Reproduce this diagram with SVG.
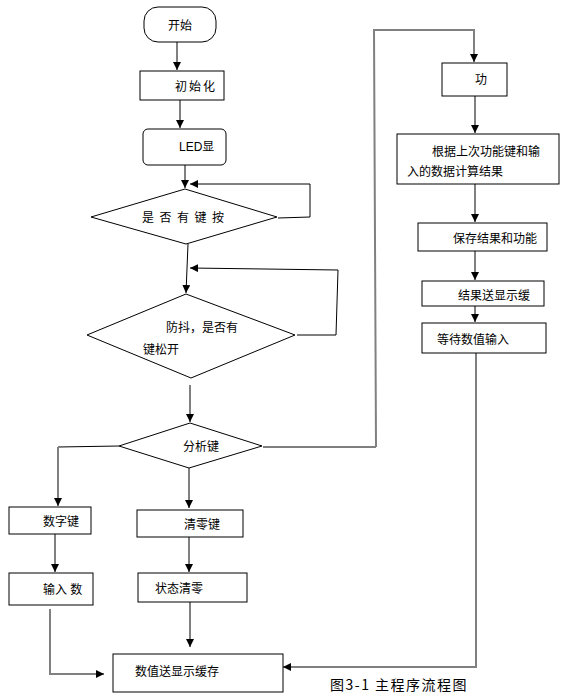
<svg xmlns="http://www.w3.org/2000/svg" width="562" height="696" viewBox="0 0 562 696">
<defs>
<marker id="ah" viewBox="0 0 10 10" refX="10" refY="5" markerWidth="8" markerHeight="8" markerUnits="userSpaceOnUse" orient="auto">
<path d="M0,0 L10,5 L0,10 Z" fill="#000"/>
</marker>
</defs>
<style>
.box{fill:#fff;stroke:#000;stroke-width:1}
.t{font-family:"Liberation Sans","Noto Sans CJK SC",sans-serif;font-size:12px;fill:#000;dominant-baseline:central}
.g{fill:none;stroke:#808080;stroke-width:2}
.k{fill:none;stroke:#000;stroke-width:1}
.cap{font-family:"Noto Sans CJK SC",sans-serif;font-size:14px;fill:#000}
</style>
<rect width="562" height="696" fill="#fff"/>
<g id="connectors">
<path class="g" d="M177,42 V70" marker-end="url(#ah)"/>
<path class="g" d="M180,100 V128" marker-end="url(#ah)"/>
<path class="g" d="M185,165 V188" marker-end="url(#ah)"/>
<path class="k" d="M278,218 L310,217 V184 H190" marker-end="url(#ah)"/>
<path class="k" d="M188,244 L186,293" marker-end="url(#ah)"/>
<path class="k" d="M297,335 H336 L338,270 L190,268" marker-end="url(#ah)"/>
<path class="g" d="M190,385 V422" marker-end="url(#ah)"/>
<path class="k" d="M119,446 L58,447"/>
<path class="g" d="M58,447 V506" marker-end="url(#ah)"/>
<path class="g" d="M189,468 V508" marker-end="url(#ah)"/>
<path class="g" d="M55,534 V572" marker-end="url(#ah)"/>
<path class="g" d="M189,537 V572" marker-end="url(#ah)"/>
<path class="g" d="M190,602 V647" marker-end="url(#ah)"/>
<path class="g" d="M50,609 V674 H104" marker-end="url(#ah)"/>
<path class="k" d="M263,447 H376"/>
<path class="g" d="M376,447 L374,30 H474 V62" marker-end="url(#ah)"/>
<path class="g" d="M475,96 V133" marker-end="url(#ah)"/>
<path class="g" d="M475,184 V222" marker-end="url(#ah)"/>
<path class="g" d="M475,251 V280" marker-end="url(#ah)"/>
<path class="g" d="M475,306 V322" marker-end="url(#ah)"/>
<path class="g" d="M476,353 V667 H283" marker-end="url(#ah)"/>
</g>
<g id="start"><rect class="box" x="144" y="7" width="72" height="35" rx="14" stroke="#555"/><text class="t" x="168" y="26">开始</text></g>
<g id="init"><rect class="box" x="140" y="71" width="84" height="29"/><text class="t" x="175" y="87" letter-spacing="2">初始化</text></g>
<g id="led"><rect class="box" x="143" y="129" width="83" height="36" rx="5" stroke="#333"/><text class="t" x="179" y="147">LED显</text></g>
<g id="d1"><polygon class="box" points="185,189 277,217 186,244 91,217"/><text class="t" x="142" y="218" letter-spacing="5.5">是否有键按</text></g>
<g id="d2"><polygon class="box" points="186,294 295,335 191,378 87,335"/><text class="t" x="166" y="328">防抖，是否有</text><text class="t" x="143" y="350">键松开</text></g>
<g id="d3"><polygon class="box" points="190,423 262,446 189,468 119,446"/><text class="t" x="183" y="447">分析键</text></g>
<g id="numkey"><rect class="box" x="9" y="507" width="82" height="27"/><text class="t" x="43" y="522">数字键</text></g>
<g id="clrkey"><rect class="box" x="137" y="510" width="106" height="27"/><text class="t" x="184" y="525">清零键</text></g>
<g id="input"><rect class="box" x="9" y="573" width="84" height="32"/><text class="t" x="43" y="590">输入 数</text></g>
<g id="clrstate"><rect class="box" x="138" y="573" width="109" height="29"/><text class="t" x="155" y="589">状态清零</text></g>
<g id="disp"><rect class="box" x="113" y="654" width="170" height="38"/><text class="t" x="135" y="672">数值送显示缓存</text></g>
<g id="func"><rect class="box" x="442" y="63" width="65" height="33"/><text class="t" x="475" y="80">功</text></g>
<g id="calc"><rect class="box" x="397" y="134" width="162" height="50"/><text class="t" x="432" y="152">根据上次功能键和输</text><text class="t" x="407" y="172">入的数据计算结果</text></g>
<g id="save"><rect class="box" x="418" y="223" width="129" height="28"/><text class="t" x="453" y="239">保存结果和功能</text></g>
<g id="send"><rect class="box" x="422" y="281" width="122" height="25"/><text class="t" x="458" y="296">结果送显示缓</text></g>
<g id="wait"><rect class="box" x="422" y="323" width="124" height="30"/><text class="t" x="437" y="340">等待数值输入</text></g>
<text class="cap" x="330" y="690" letter-spacing="1.5">图3-1 主程序流程图</text>
</svg>
